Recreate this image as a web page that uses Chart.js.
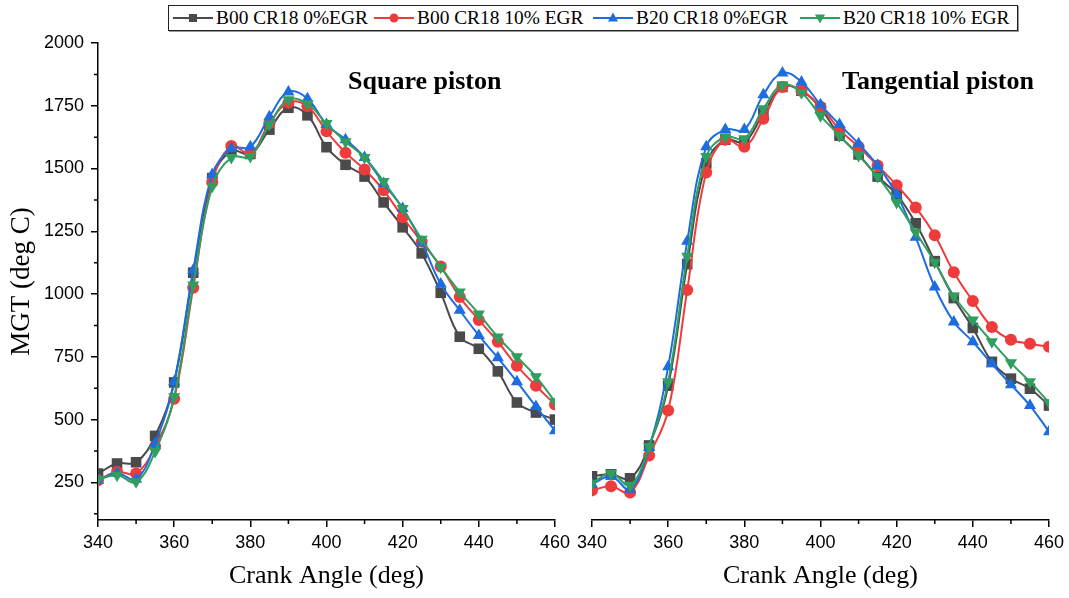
<!DOCTYPE html>
<html>
<head>
<meta charset="utf-8">
<title>MGT vs crank angle</title>
<script src="https://cdn.jsdelivr.net/npm/chart.js@4/dist/chart.umd.min.js"></script>
<style>
  body { margin: 0; background: #fff; }
  #wrap { position: relative; width: 1069px; height: 598px; overflow: hidden; }
  .panel { position: absolute; top: 0; height: 598px; }
  #legend {
    position: absolute; left: 168px; top: 5px; width: 845px; height: 24px;
    border: 1px solid #222; box-shadow: 1px 1px 0 #999;
    display: flex; align-items: center; padding-left: 3px; white-space: nowrap;
    font-family: "Liberation Serif", "Times New Roman", serif; font-size: 19.4px; color: #000;
  }
  #legend .item { display: flex; align-items: center; flex: none; }
  #legend svg { margin-right: 2px; flex: none; }
</style>
</head>
<body>
<div id="wrap">
  <div id="legend"></div>
  <div class="panel" style="left:0;width:575px"><canvas id="leftChart"></canvas></div>
  <div class="panel" style="left:575px;width:494px"><canvas id="rightChart"></canvas></div>
</div>
<script>
// crank angle, deg
const angles = [340, 345, 350, 355, 360, 365, 370, 375, 380, 385, 390, 395, 400,
                405, 410, 415, 420, 425, 430, 435, 440, 445, 450, 455, 460];

// mean gas temperature (deg C) - square piston
const sqB00_0  = [285, 325, 330, 435, 648, 1085, 1462, 1570, 1558, 1655, 1742, 1712, 1585,
                  1515, 1468, 1365, 1266, 1162, 1005, 830, 782, 692, 568, 528, 500];
const sqB00_10 = [258, 292, 285, 393, 583, 1025, 1445, 1590, 1560, 1680, 1762, 1748, 1648,
                  1563, 1496, 1413, 1306, 1208, 1110, 988, 897, 810, 714, 635, 560];
const sqB20_0  = [258, 286, 262, 405, 651, 1095, 1476, 1579, 1587, 1706, 1805, 1778, 1675,
                  1615, 1544, 1440, 1341, 1206, 1040, 935, 835, 746, 651, 552, 456];
const sqB20_10 = [262, 278, 252, 373, 591, 1036, 1429, 1544, 1548, 1675, 1774, 1758, 1679,
                  1607, 1544, 1448, 1341, 1218, 1107, 1008, 921, 829, 750, 671, 571];

// mean gas temperature (deg C) - tangential piston
const tgB00_0  = [274, 282, 266, 397, 635, 1119, 1520, 1615, 1605, 1720, 1825, 1810, 1740,
                  1631, 1556, 1468, 1397, 1282, 1131, 984, 865, 730, 663, 623, 556];
const tgB00_10 = [218, 234, 210, 357, 536, 1016, 1484, 1615, 1587, 1698, 1825, 1810, 1746,
                  1655, 1587, 1512, 1433, 1345, 1234, 1087, 972, 869, 818, 802, 790];
const tgB20_0  = [242, 274, 222, 389, 710, 1210, 1587, 1655, 1655, 1794, 1881, 1845, 1754,
                  1675, 1599, 1512, 1397, 1226, 1028, 889, 810, 722, 639, 556, 452];
const tgB20_10 = [246, 286, 238, 393, 651, 1151, 1548, 1627, 1619, 1738, 1833, 1802, 1710,
                  1631, 1552, 1468, 1365, 1246, 1127, 992, 897, 810, 726, 651, 568];

const seriesNames = ['B00 CR18 0%EGR', 'B00 CR18 10% EGR', 'B20 CR18 0%EGR', 'B20 CR18 10% EGR'];
const yTicks = [250, 500, 750, 1000, 1250, 1500, 1750, 2000];
const yMinor = [125, 375, 625, 875, 1125, 1375, 1625, 1875];
const xMinor = [350, 370, 390, 410, 430, 450];

const colors = ['#4a4a4a', '#ef3b3b', '#1d6ddf', '#2f9e5e'];
const shapes = ['rect', 'circle', 'triangle', 'triangle'];
const rotations = [0, 0, 0, 180];
const radii = [7.5, 6, 7, 7];
const legendWidths = [201, 219, 207, 210];

const serif = '"Liberation Serif", "Times New Roman", serif';
const sans = '"Liberation Sans", Arial, sans-serif';

function makeDatasets(rows) {
  return rows.map((vals, i) => ({
    label: seriesNames[i],
    data: angles.map((a, k) => ({ x: a, y: vals[k] })),
    borderColor: colors[i],
    backgroundColor: colors[i],
    borderWidth: 2,
    tension: 0.4,
    pointStyle: shapes[i],
    pointRotation: rotations[i],
    pointRadius: radii[i],
    pointBorderWidth: 0,
    order: 3 - i
  }));
}

// short minor ticks + panel caption
const extras = {
  id: 'extras',
  afterDraw(chart, args, opts) {
    const ctx = chart.ctx;
    const xs = chart.scales.x, ys = chart.scales.y;
    ctx.save();
    ctx.strokeStyle = '#000';
    ctx.lineWidth = 1.5;
    ctx.beginPath();
    xMinor.forEach(v => {
      const px = xs.getPixelForValue(v);
      ctx.moveTo(px, xs.top);
      ctx.lineTo(px, xs.top + 4);
    });
    if (opts.yMinor) {
      yMinor.forEach(v => {
        const py = ys.getPixelForValue(v);
        ctx.moveTo(ys.right, py);
        ctx.lineTo(ys.right - 4, py);
      });
    }
    ctx.stroke();
    ctx.fillStyle = '#000';
    ctx.font = 'bold 26px ' + serif;
    ctx.textBaseline = 'middle';
    ctx.fillText(opts.caption, opts.cx, opts.cy);
    ctx.restore();
  }
};

function xScale() {
  return {
    type: 'linear', min: 340, max: 460,
    ticks: { stepSize: 20, color: '#000', font: { family: sans, size: 18 }, padding: 5, maxRotation: 0 },
    grid: { drawOnChartArea: false, tickLength: 7, color: '#000', lineWidth: 1.5 },
    border: { color: '#000', width: 1.5 },
    title: { display: true, text: 'Crank Angle (deg)', color: '#000',
             font: { family: serif, size: 26 }, padding: { top: 0, bottom: 6 } },
    afterFit(s) { s.height = 78; }
  };
}

new Chart(document.getElementById('leftChart'), {
  type: 'line',
  data: { datasets: makeDatasets([sqB00_0, sqB00_10, sqB20_0, sqB20_10]) },
  options: {
    responsive: true, maintainAspectRatio: false, animation: false,
    layout: { padding: { left: 0, right: 20, top: 43, bottom: 0 } },
    plugins: { legend: { display: false }, tooltip: { enabled: false },
               extras: { caption: 'Square piston', cx: 348, cy: 82, yMinor: true } },
    scales: {
      x: xScale(),
      y: {
        type: 'linear', min: 100, max: 2000,
        afterBuildTicks(s) { s.ticks = yTicks.map(v => ({ value: v })); },
        ticks: { color: '#000', font: { family: sans, size: 18 }, padding: 7, callback: v => String(v) },
        grid: { drawOnChartArea: false, tickLength: 7, color: '#000', lineWidth: 1.5 },
        border: { color: '#000', width: 1.5 },
        title: { display: true, text: 'MGT (deg C)', color: '#000',
                 font: { family: serif, size: 27 }, padding: { top: 6, bottom: 0 } },
        afterFit(s) { s.width = 98; }
      }
    }
  },
  plugins: [extras]
});

new Chart(document.getElementById('rightChart'), {
  type: 'line',
  data: { datasets: makeDatasets([tgB00_0, tgB00_10, tgB20_0, tgB20_10]) },
  options: {
    responsive: true, maintainAspectRatio: false, animation: false,
    layout: { padding: { left: 17, right: 20, top: 43, bottom: 0 } },
    plugins: { legend: { display: false }, tooltip: { enabled: false },
               extras: { caption: 'Tangential piston', cx: 267, cy: 82, yMinor: false } },
    scales: {
      x: Object.assign(xScale(), {
        afterFit(s) { s.height = 78; s.paddingLeft = 0; s.paddingRight = 0; }
      }),
      y: { type: 'linear', min: 100, max: 2000, display: false }
    }
  },
  plugins: [extras]
});

// legend: line with marker, then label
const legend = document.getElementById('legend');
seriesNames.forEach((name, i) => {
  const c = colors[i];
  let mark;
  if (i === 0) mark = `<rect x="17" y="6" width="8" height="8" fill="${c}"/>`;
  else if (i === 1) mark = `<circle cx="21" cy="10" r="4.5" fill="${c}"/>`;
  else if (i === 2) mark = `<polygon points="21,4.5 26,13.5 16,13.5" fill="${c}"/>`;
  else mark = `<polygon points="21,15.5 26,6.5 16,6.5" fill="${c}"/>`;
  const item = document.createElement('span');
  item.className = 'item';
  item.style.width = legendWidths[i] + 'px';
  item.innerHTML = `<svg width="42" height="20"><line x1="1" y1="10" x2="41" y2="10" stroke="${c}" stroke-width="2"/>${mark}</svg><span>${name}</span>`;
  legend.appendChild(item);
});
</script>
</body>
</html>
